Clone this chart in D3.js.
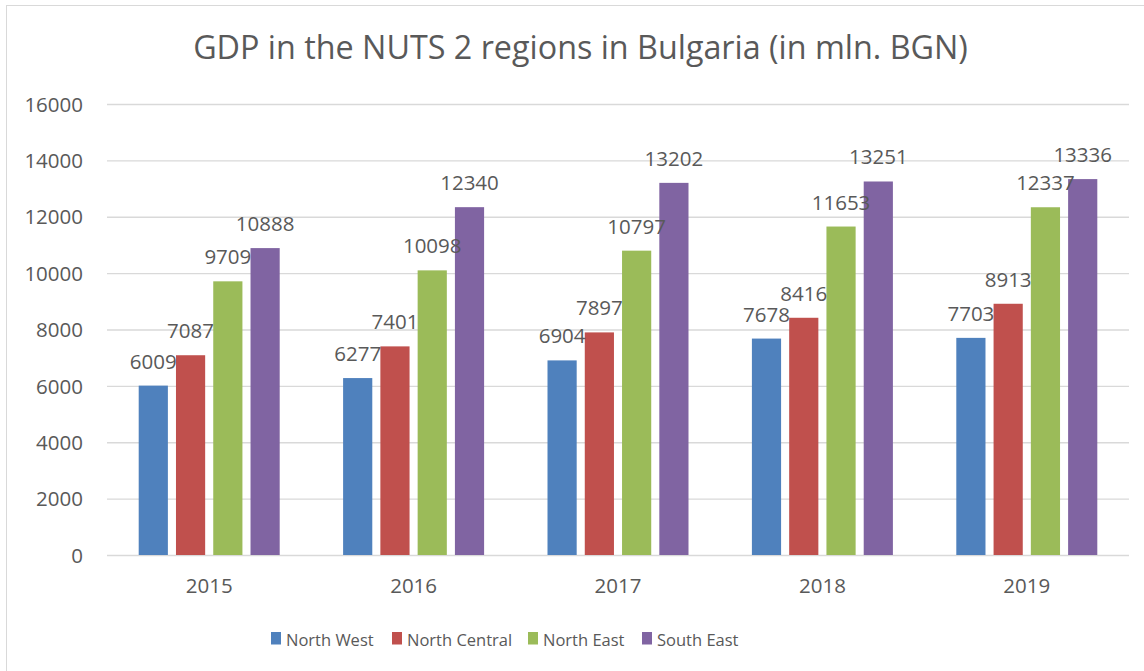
<!DOCTYPE html>
<html><head><meta charset="utf-8">
<script src="https://cdn.jsdelivr.net/npm/d3@7"></script>
<style>body{margin:0;background:#fff}svg{display:block}text{font-family:"Open Sans",sans-serif;fill:#595959}</style>
</head><body><svg id="c" width="1144" height="671"></svg>
<script>
const years = ["2015","2016","2017","2018","2019"];
const seriesNames = ["North West","North Central","North East","South East"];
const northWest = [6009,6277,6904,7678,7703];
const northCentral = [7087,7401,7897,8416,8913];
const northEast = [9709,10098,10797,11653,12337];
const southEast = [10888,12340,13202,13251,13336];
const yTicks = [0,2000,4000,6000,8000,10000,12000,14000,16000];
const colors = ["#4F81BD","#C0504D","#9BBB59","#8064A2"];
const title = "GDP in the NUTS 2 regions in Bulgaria (in mln. BGN)";

const series = [northWest,northCentral,northEast,southEast];
const svg = d3.select("#c");
svg.append("rect").attr("x",6.5).attr("y",5.5).attr("width",1200).attr("height",700)
  .attr("fill","none").attr("stroke","#d9d9d9");

const m = {l:107,r:1129,t:104,b:555};
const groupW = 141;
const x0 = d3.scaleBand().domain(years).range([m.l,m.r]).paddingInner(0).paddingOuter(0);
const x1 = d3.scaleBand().domain(seriesNames).range([0,groupW]).paddingInner(0.217).paddingOuter(0);
const y = d3.scaleLinear().domain([0,16000]).range([m.b,m.t]);

svg.append("text").attr("x",580.5).attr("y",59).attr("text-anchor","middle")
  .style("font-size","32.3px").text(title);

const yAxis = svg.append("g").attr("transform",`translate(${m.l},0)`)
  .call(d3.axisLeft(y).tickValues(yTicks).tickSize(-(m.r-m.l)).tickFormat(d3.format("d")));
yAxis.select(".domain").remove();
yAxis.selectAll("line").attr("stroke","#d9d9d9").attr("stroke-width",1.3);
yAxis.selectAll("text").attr("x",-24).attr("dy","0.35em").style("font-size","20.5px").attr("fill","#595959");

const xAxis = svg.append("g").attr("transform",`translate(0,${m.b})`)
  .call(d3.axisBottom(x0).tickSize(0));
xAxis.select(".domain").remove();
xAxis.selectAll("text").attr("dy","0").attr("y",38).style("font-size","20.5px").attr("fill","#595959");

const groups = svg.append("g").selectAll("g").data(years).join("g")
  .attr("transform",d=>`translate(${x0(d)+x0.bandwidth()/2-groupW/2},0)`);
seriesNames.forEach((s,si)=>{
  groups.append("rect").attr("x",x1(s)).attr("width",x1.bandwidth())
    .attr("y",(d,i)=>y(series[si][i])).attr("height",(d,i)=>m.b-y(series[si][i]))
    .attr("fill",colors[si]);
});
seriesNames.forEach((s,si)=>{
  groups.append("text").attr("x",x1(s)+x1.bandwidth()/2).attr("text-anchor","middle")
    .attr("y",(d,i)=>y(series[si][i])-17).style("font-size","20.5px").attr("fill","#404040")
    .text((d,i)=>series[si][i]);
});

const legX = [271,392,528,642];
const leg = svg.append("g").selectAll("g").data(seriesNames).join("g")
  .attr("transform",(d,i)=>`translate(${legX[i]},632)`);
leg.append("rect").attr("width",10).attr("height",12.5).attr("fill",(d,i)=>colors[i]);
leg.append("text").attr("x",15).attr("y",13.5).style("font-size","16.5px").text(d=>d);
</script></body></html>
